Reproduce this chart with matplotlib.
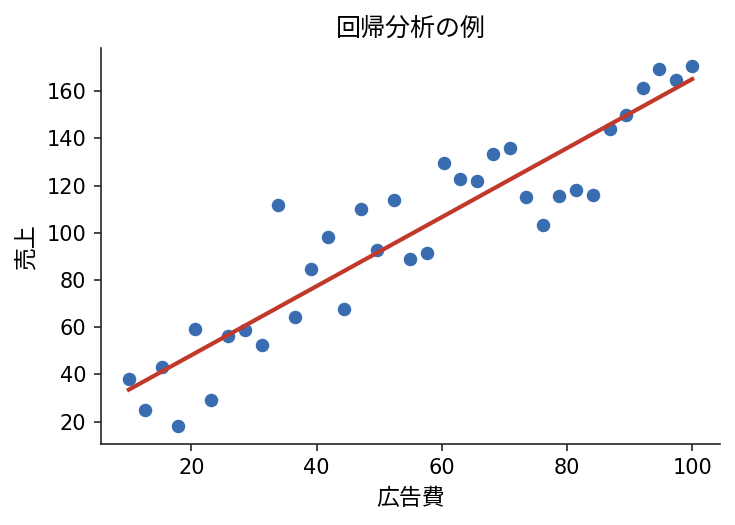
import numpy as np
import matplotlib
matplotlib.use("Agg")
import matplotlib.pyplot as plt

plt.rcParams['font.family'] = ['DejaVu Sans', 'Noto Sans CJK JP']

# 広告費 vs 売上
ad_cost = [10.0, 12.6, 15.3, 17.9, 20.6, 23.2, 25.9, 28.5, 31.2, 33.8,
           36.5, 39.1, 41.8, 44.4, 47.1, 49.7, 52.4, 55.0, 57.6, 60.3,
           62.9, 65.6, 68.2, 70.9, 73.5, 76.2, 78.8, 81.5, 84.1, 86.8,
           89.4, 92.1, 94.7, 97.4, 100.0]
sales = [38.2, 25.1, 43.3, 18.3, 59.3, 29.3, 56.4, 58.9, 52.6, 111.8,
         64.4, 84.7, 98.3, 67.8, 110.1, 92.8, 113.9, 89.0, 91.5, 129.6,
         122.8, 122.0, 133.4, 135.9, 115.2, 103.3, 115.6, 118.1, 116.0, 143.9,
         149.9, 161.3, 169.3, 164.7, 170.6]

x = np.array(ad_cost)
y = np.array(sales)
slope, intercept = np.polyfit(x, y, 1)

fig, ax = plt.subplots(figsize=(4.9, 3.5), dpi=150)
ax.scatter(x, y, s=30, color='#3a6db0', zorder=2)
ax.plot(x, slope * x + intercept, color='#c0392b', lw=2, zorder=3)

ax.set_title('回帰分析の例', fontsize=12)
ax.set_xlabel('広告費', fontsize=11)
ax.set_ylabel('売上', fontsize=11)
ax.tick_params(labelsize=10, color='#262626')
for side in ['top', 'right']:
    ax.spines[side].set_visible(False)
for side in ['left', 'bottom']:
    ax.spines[side].set_color('#262626')

fig.subplots_adjust(left=0.137, right=0.98, bottom=0.155, top=0.908)
fig.savefig('out.png', dpi=150)
